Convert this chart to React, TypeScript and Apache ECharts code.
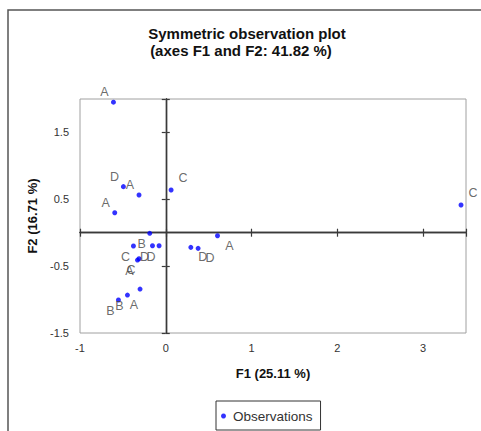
import React, { useEffect, useRef } from "react";
import * as echarts from "echarts";

// Observation labels and coordinates (F1, F2)
const obsLabels = ["A", "D", "A", "A", "C", "B", "A", "C", "D", "D", "D", "D", "A", "C", "B", "B", "A", "C"];
const f1Values = [-0.61, -0.494, -0.312, -0.595, 0.062, -0.187, 0.603, -0.377, -0.155, -0.078, 0.292, 0.377, -0.33, -0.312, -0.552, -0.447, -0.3, 3.442];
const f2Values = [1.952, 0.689, 0.564, 0.299, 0.639, -0.009, -0.045, -0.199, -0.195, -0.195, -0.219, -0.234, -0.409, -0.389, -1.007, -0.933, -0.843, 0.415];
// where each label sits relative to its point
const labelSides = ["ul", "ul", "ul", "ul", "ur", "ll", "lr", "ll", "ll", "ll", "lr", "lr", "ll", "ll", "ll", "ll", "lb", "ur"];

const xTickLabels = ["-1", "0", "1", "2", "3"];
const yTickLabels = ["-1.5", "-0.5", "0.5", "1.5"];

const titleLines = ["Symmetric observation plot", "(axes F1 and F2: 41.82 %)"];
const xName = "F1 (25.11 %)";
const yName = "F2 (16.71 %)";
const seriesName = "Observations";

const sideOffsets: Record<string, number[]> = {
  ul: [-9, -10],
  ur: [12, -12],
  ll: [-8, 11],
  lr: [12, 10],
  lb: [-6, 16],
};

const FONT = "'Liberation Sans', Arial, sans-serif";

export default function App() {
  const ref = useRef<HTMLDivElement>(null);
  useEffect(() => {
    if (!ref.current) return;
    const chart = echarts.init(ref.current, null, { renderer: "svg" });
    const data = f1Values.map((x, i) => ({
      value: [x, f2Values[i]],
      name: obsLabels[i],
    }));
    const baseX = { type: "value", min: -1, max: 3.5, interval: 1, gridIndex: 0 };
    const baseY = { type: "value", min: -1.5, max: 2, interval: 1, gridIndex: 0 };
    const zeroLine = { show: true, onZero: true, onZeroAxisIndex: 0, lineStyle: { color: "#3a3a3a", width: 1.4 } };
    chart.setOption({
      animation: false,
      backgroundColor: "#fff",
      textStyle: { fontFamily: FONT },
      grid: {
        left: 80,
        top: 99,
        width: 386,
        height: 234,
        show: true,
        borderColor: "#a0a0a0",
        borderWidth: 1,
      },
      xAxis: [
        {
          ...baseX,
          position: "bottom",
          axisLine: { show: false, onZero: false },
          axisTick: { show: false },
          splitLine: { show: false },
          axisLabel: {
            margin: 9,
            fontSize: 11,
            color: "#333",
            fontFamily: FONT,
            showMaxLabel: false,
            formatter: (v: number) => (xTickLabels.includes(String(v)) ? String(v) : ""),
          },
          name: xName,
          nameLocation: "middle",
          nameGap: 34,
          nameTextStyle: { fontSize: 13, fontWeight: "bold", color: "#111", fontFamily: FONT },
        },
        {
          ...baseX,
          position: "bottom",
          axisLine: zeroLine,
          axisTick: { show: true, length: 4, inside: false, lineStyle: { color: "#3a3a3a", width: 1.2 } },
          axisLabel: { show: false },
          splitLine: { show: false },
        },
        {
          ...baseX,
          position: "bottom",
          axisLine: zeroLine,
          axisTick: { show: true, length: 4, inside: true, lineStyle: { color: "#3a3a3a", width: 1.2 } },
          axisLabel: { show: false },
          splitLine: { show: false },
        },
      ],
      yAxis: [
        {
          ...baseY,
          position: "left",
          axisLine: { show: false, onZero: false },
          axisTick: { show: false },
          splitLine: { show: false },
          axisLabel: {
            margin: 11,
            fontSize: 11,
            color: "#333",
            fontFamily: FONT,
            showMaxLabel: false,
            formatter: (v: number) => (yTickLabels.includes(String(v)) ? String(v) : ""),
          },
          name: yName,
          nameLocation: "middle",
          nameGap: 40,
          nameRotate: 90,
          nameTextStyle: { fontSize: 13, fontWeight: "bold", color: "#111", fontFamily: FONT },
        },
        {
          ...baseY,
          position: "left",
          axisLine: zeroLine,
          axisTick: { show: true, length: 4, inside: false, lineStyle: { color: "#3a3a3a", width: 1.2 } },
          axisLabel: { show: false },
          splitLine: { show: false },
        },
        {
          ...baseY,
          position: "left",
          axisLine: zeroLine,
          axisTick: { show: true, length: 4, inside: true, lineStyle: { color: "#3a3a3a", width: 1.2 } },
          axisLabel: { show: false },
          splitLine: { show: false },
        },
      ],
      legend: {
        data: [seriesName],
        left: 216,
        top: 401,
        orient: "horizontal",
        borderColor: "#333",
        borderWidth: 1,
        padding: [8, 8, 7, 5],
        itemWidth: 5,
        itemHeight: 5,
        itemGap: 5,
        icon: "circle",
        textStyle: { fontSize: 13.5, color: "#333", fontFamily: FONT, padding: [0, 0, 0, 2] },
      },
      graphic: [
        {
          type: "rect",
          shape: { x: 8, y: 10, width: 600, height: 600 },
          style: { fill: "none", stroke: "#555", lineWidth: 1.5 },
          silent: true,
        },
        {
          type: "text",
          x: 247,
          y: 33,
          style: {
            text: titleLines[0],
            fontSize: 15,
            fontWeight: "bold",
            fontFamily: FONT,
            fill: "#111",
            align: "center",
            verticalAlign: "middle",
          },
        },
        {
          type: "text",
          x: 241,
          y: 50,
          style: {
            text: titleLines[1],
            fontSize: 15,
            fontWeight: "bold",
            fontFamily: FONT,
            fill: "#111",
            align: "center",
            verticalAlign: "middle",
          },
        },
      ],
      series: [
        {
          name: seriesName,
          type: "scatter",
          xAxisIndex: 0,
          yAxisIndex: 0,
          symbol: "circle",
          symbolSize: 5,
          itemStyle: { color: "#0000ff" },
          label: {
            show: true,
            position: "inside",
            formatter: (p: any) => p.name,
            fontSize: 12.5,
            color: "#444",
            fontFamily: FONT,
          },
          labelLayout: (params: any) => {
            const off = sideOffsets[labelSides[params.dataIndex]];
            return { dx: off[0], dy: off[1], hideOverlap: false };
          },
          data,
        },
      ],
    });
    return () => chart.dispose();
  }, []);
  return (
    <div
      ref={ref}
      style={{ position: "absolute", left: 0, top: 0, width: 481, height: 431 }}
    />
  );
}
